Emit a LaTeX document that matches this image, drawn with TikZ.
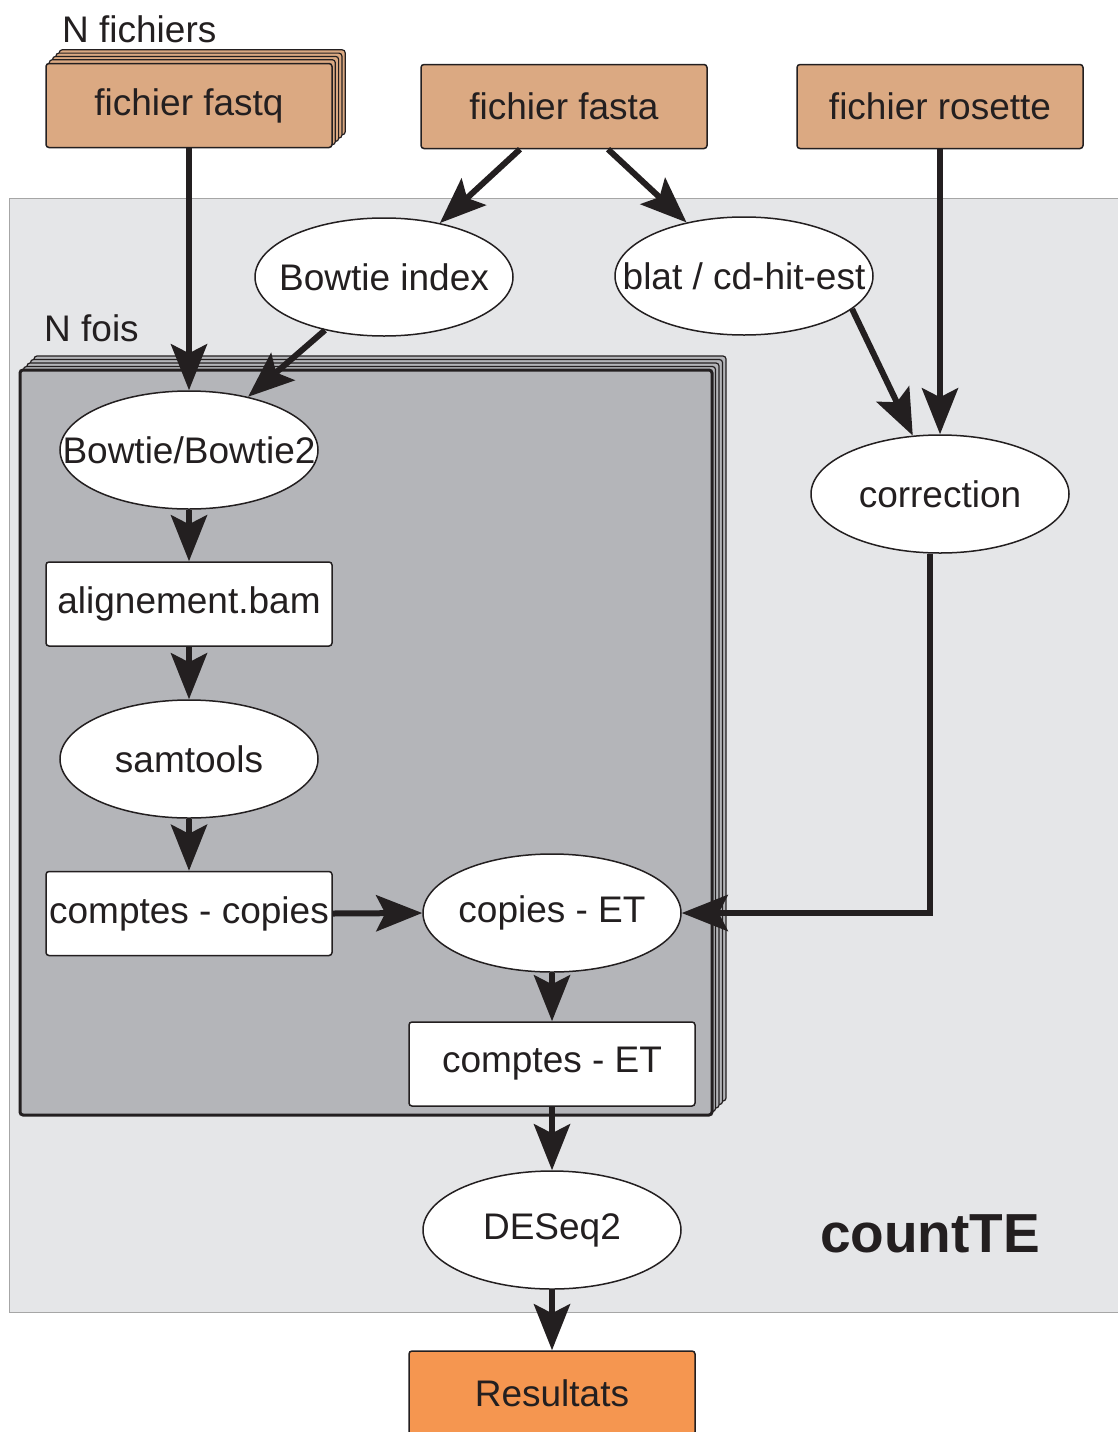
\documentclass[tikz,border=0pt]{standalone}
\usepackage{fontspec}
\setmainfont{Liberation Sans}
\usetikzlibrary{arrows.meta,shapes.geometric}
\definecolor{ink}{HTML}{231F20}
\definecolor{tanfill}{RGB}{219,169,130}
\definecolor{orngfill}{RGB}{245,150,80}
\definecolor{panelfill}{RGB}{229,230,232}
\definecolor{loopgray}{RGB}{180,181,185}
\newcommand{\zw}[1]{\makebox[0pt]{#1}}
\begin{document}
\begin{tikzpicture}[x=1pt,y=-1pt,
 txt/.style={font=\fontsize{37}{44}\selectfont, text=ink},
 filebox/.style={txt, draw=ink, line width=1.5pt, rounded corners=3pt, minimum width=286pt, minimum height=84pt, inner sep=0pt},
 ell/.style={txt, ellipse, draw=ink, fill=white, line width=1.5pt, minimum width=258pt, minimum height=118pt, inner sep=0pt},
 layer/.style={draw=ink, line width=1.2pt, rounded corners=3pt},
 flow/.style={draw=ink, line width=6pt, -{Stealth[length=46pt,width=36pt,inset=9pt]}},
]
\useasboundingbox (0,0) rectangle (1117,1432);
% countTE panel
\fill[panelfill, draw=gray!70, line width=1pt] (9,198) rectangle (1130,1312);
% stack behind fastq
\foreach \k in {4,3,2,1}
  \draw[layer, fill=tanfill] ({46+3.3*\k},{63-3.3*\k}) rectangle ({332+3.3*\k},{148-3.3*\k});
% N fois stack
\foreach \k in {4,3,2,1}
  \draw[layer, fill=loopgray] ({20+3.5*\k},{370-3.5*\k}) rectangle ({712+3.5*\k},{1115-3.5*\k});
\draw[draw=ink, fill=loopgray, line width=3pt, rounded corners=3pt] (20,370) rectangle (712,1115);
% labels
\node[txt, anchor=base west, inner sep=0pt] (nfich) at (62,42) {N fichiers};
\node[txt, anchor=base west, inner sep=0pt] (nfois) at (44,341) {N fois};
\node[font=\bfseries\fontsize{55}{66}\selectfont, text=ink, anchor=base] (countte) at (930,1252) {countTE};
% inputs
\node[filebox, fill=tanfill] (fastq) at (189,105.5) {fichier fastq};
\node[filebox, fill=tanfill] (fasta) at (564,106.5) {fichier fasta};
\node[filebox, fill=tanfill] (rosette) at (940,106.5) {fichier rosette};
% ellipses
\node[ell] (bidx) at (384,277) {\zw{Bowtie index}};
\node[ell] (blat) at (744,276) {\zw{blat / cd-hit-est}};
\node[ell] (bt2) at (189,450) {\zw{Bowtie/Bowtie2}};
\node[ell] (samt) at (189,759) {\zw{samtools}};
\node[ell] (cet) at (552,913) {\zw{copies - ET}};
\node[ell] (deseq) at (552,1230) {\zw{DESeq2}};
\node[ell] (corr) at (940,494) {\zw{correction}};
% boxes
\node[filebox, fill=white] (bam) at (189,604) {alignement.bam};
\node[filebox, fill=white] (ccop) at (189,913.5) {comptes - copies};
\node[filebox, fill=white] (cetc) at (552,1064) {comptes - ET};
\node[filebox, fill=orngfill] (res) at (552,1393) {Resultats};
% connectors
\draw[flow] (fastq.south) -- (bt2.north);
\draw[flow] ([xshift=-44pt]fasta.south) -- (bidx.44);
\draw[flow] ([xshift=44pt]fasta.south) -- (blat.137);
\draw[flow] (bidx.222) -- (bt2.42);
\draw[flow] (blat.-17) -- (corr.115);
\draw[flow] (rosette.south) -- (corr.north);
\draw[flow] (bt2.south) -- (bam.north);
\draw[flow] (bam.south) -- (samt.north);
\draw[flow] (samt.south) -- (ccop.north);
\draw[flow] (ccop.east) -- (cet.west);
\draw[flow] ([xshift=-10pt]corr.south) |- (cet.east);
\draw[flow] (cet.south) -- (cetc.north);
\draw[flow] (cetc.south) -- (deseq.north);
\draw[flow] (deseq.south) -- (res.north);
\end{tikzpicture}
\end{document}
